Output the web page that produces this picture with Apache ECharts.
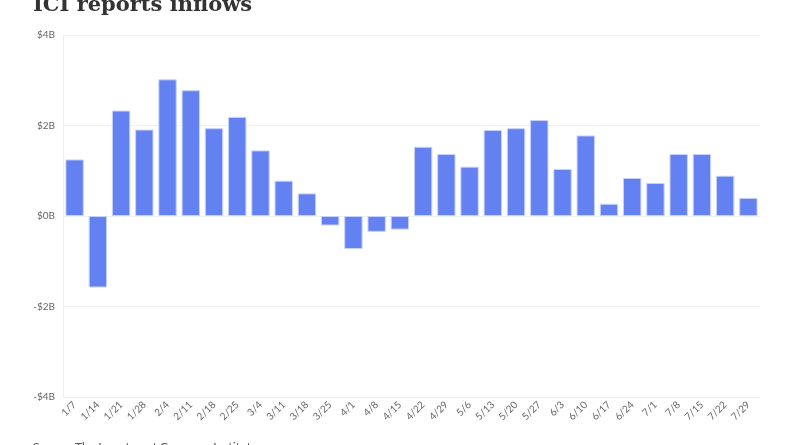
<!DOCTYPE html>
<html>
<head>
<meta charset="utf-8">
<script src="https://cdn.jsdelivr.net/npm/echarts@6/dist/echarts.min.js"></script>
<style>
  html, body { margin: 0; padding: 0; background: #fff; }
  #chart { width: 800px; height: 445px; }
</style>
</head>
<body>
<div id="chart"></div>
<script>
var weeks = ["1/7","1/14","1/21","1/28","2/4","2/11","2/18","2/25","3/4","3/11","3/18","3/25","4/1","4/8","4/15",
             "4/22","4/29","5/6","5/13","5/20","5/27","6/3","6/10","6/17","6/24","7/1","7/8","7/15","7/22","7/29"];
// weekly flows, billions of dollars
var inflows = [1.25,-1.58,2.33,1.91,3.02,2.78,1.94,2.19,1.45,0.78,0.50,-0.21,-0.73,-0.35,-0.30,
               1.53,1.37,1.09,1.90,1.94,2.12,1.04,1.78,0.27,0.84,0.73,1.37,1.37,0.89,0.40];
var yTicks = { min: -4, max: 4, step: 2 };

var myChart = echarts.init(document.getElementById('chart'));

function money(v) {
    return (v < 0 ? '-$' : '$') + Math.abs(v) + 'B';
}

var option = {
    animation: false,
    graphic: [
        {
            type: 'text', left: 33, top: -5,
            style: { text: 'ICI reports inflows', font: 'bold 21px "DejaVu Serif"', fill: '#333' }
        },
        {
            type: 'text', left: 33, top: 441,
            style: { text: 'Source: The Investment Company Institute', font: '12px Lato', fill: '#555' }
        }
    ],
    grid: { left: 63, right: 40, top: 35, bottom: 48 },
    xAxis: {
        type: 'category',
        data: weeks,
        axisLine: { onZero: false, lineStyle: { color: '#eeeeee' } },
        axisTick: { alignWithLabel: true, length: 5, lineStyle: { color: '#e6e6e6' } },
        axisLabel: { rotate: 45, fontSize: 10, color: '#666', fontFamily: 'Lato', margin: 6, interval: 0 }
    },
    yAxis: {
        type: 'value',
        min: yTicks.min, max: yTicks.max, interval: yTicks.step,
        axisLine: { show: true, lineStyle: { color: '#eeeeee' } },
        axisTick: { show: false },
        splitLine: { lineStyle: { color: '#f0f0f0' } },
        axisLabel: { formatter: money, fontSize: 10, color: '#666', fontFamily: 'Lato', margin: 8 }
    },
    series: [{
        type: 'bar',
        data: inflows,
        barCategoryGap: '21%',
        itemStyle: { color: '#6381f0', borderColor: '#c7d2fa', borderWidth: 1 }
    }]
};

myChart.setOption(option);
</script>
</body>
</html>
